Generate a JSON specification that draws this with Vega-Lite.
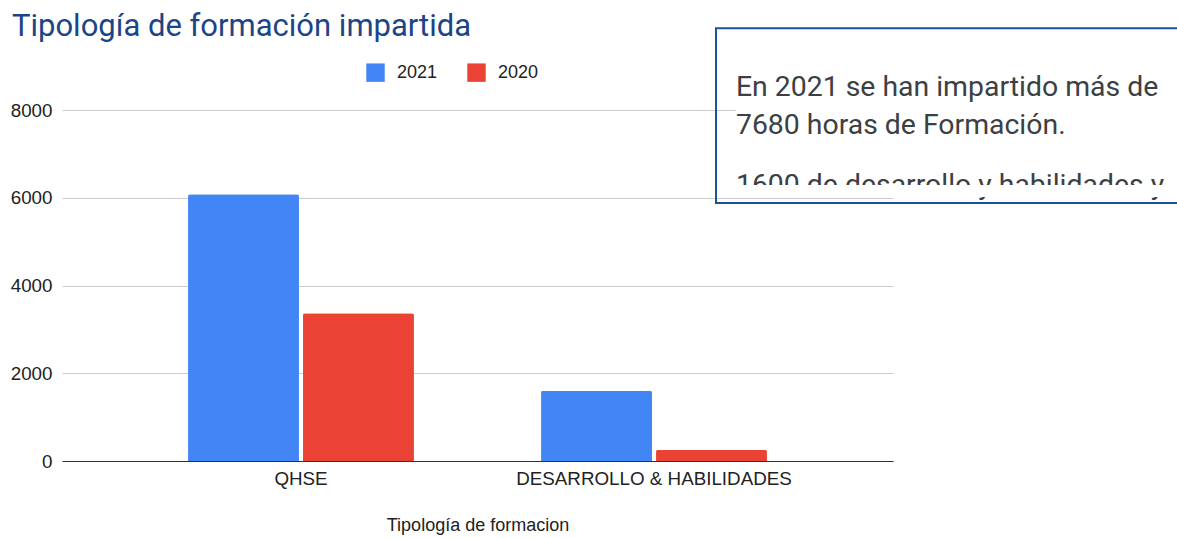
{
  "$schema": "https://vega.github.io/schema/vega-lite/v6.json",
  "autosize": {"type": "none"},
  "padding": {"left": 62, "top": 110, "right": 284, "bottom": 77},
  "width": 831,
  "height": 351,
  "background": "white",
  "title": {
    "text": "Tipología de formación impartida",
    "anchor": "start",
    "frame": "group",
    "dx": -50,
    "font": "Roboto",
    "fontSize": 31,
    "fontWeight": "normal",
    "color": "#1c4587",
    "baseline": "alphabetic",
    "offset": -40
  },
  "datasets": {
    "horas": [
      {"tipologia": "QHSE", "year": "2021", "horas": 6080},
      {"tipologia": "QHSE", "year": "2020", "horas": 3370},
      {"tipologia": "DESARROLLO & HABILIDADES", "year": "2021", "horas": 1600},
      {"tipologia": "DESARROLLO & HABILIDADES", "year": "2020", "horas": 255}
    ],
    "cuadro": [
      {"kind": "bg", "ax1": 81.1, "ax2": 134, "ay1": 9823, "ay2": 6291},
      {"kind": "box", "ax1": 78.7, "ax2": 136, "ay1": 9862, "ay2": 5880},
      {"kind": "mask", "ax1": 80, "ax2": 134, "ay1": 6291, "ay2": 6015}
    ],
    "texto": [
      {"t": "En 2021 se han impartido más de", "ax": 81.1, "ay": 8319},
      {"t": "7680 horas de Formación.", "ax": 81.1, "ay": 7446},
      {"t": "1600 de desarrollo y habilidades y", "ax": 81.1, "ay": 6079}
    ]
  },
  "layer": [
    {
      "data": {"name": "horas"},
      "mark": {"type": "bar", "cornerRadiusTopLeft": 2, "cornerRadiusTopRight": 2},
      "encoding": {
        "x": {
          "field": "tipologia",
          "type": "nominal",
          "sort": ["QHSE", "DESARROLLO & HABILIDADES"],
          "scale": {"paddingInner": 0.36, "paddingOuter": 0.357},
          "axis": {
            "title": "Tipología de formacion",
            "labelAngle": 0,
            "labelLimit": 0,
            "labelFont": "Liberation Sans",
            "labelFontSize": 18.8,
            "labelColor": "#222222",
            "labelPadding": 8,
            "ticks": false,
            "domainColor": "#333333",
            "domainWidth": 1,
            "titleFont": "Liberation Sans",
            "titleFontSize": 18,
            "titleFontWeight": "normal",
            "titleColor": "#222222",
            "titlePadding": 29
          }
        },
        "xOffset": {
          "field": "year",
          "type": "nominal",
          "sort": ["2021", "2020"],
          "scale": {"paddingInner": 0.035}
        },
        "y": {
          "field": "horas",
          "type": "quantitative",
          "scale": {"domain": [0, 8000], "nice": false},
          "axis": {
            "title": null,
            "values": [0, 2000, 4000, 6000, 8000],
            "format": "d",
            "labelFont": "Liberation Sans",
            "labelFontSize": 18.8,
            "labelColor": "#222222",
            "labelPadding": 10,
            "ticks": false,
            "domain": false,
            "gridColor": "#cccccc",
            "gridWidth": 1
          }
        },
        "color": {
          "field": "year",
          "type": "nominal",
          "scale": {"domain": ["2021", "2020"], "range": ["#4285f4", "#ea4335"]},
          "legend": {
            "title": null,
            "orient": "none",
            "legendX": 304,
            "legendY": -47,
            "direction": "horizontal",
            "symbolType": "square",
            "symbolSize": 340,
            "symbolStrokeWidth": 0,
            "labelFont": "Liberation Sans",
            "labelFontSize": 18,
            "labelColor": "#222222",
            "labelOffset": 12,
            "columnPadding": 29
          }
        }
      }
    },
    {
      "layer": [
        {
          "data": {"name": "cuadro"},
          "transform": [{"filter": "datum.kind === 'bg'"}],
          "mark": {"type": "rect", "fill": "white", "strokeWidth": 0},
          "encoding": {
            "x": {"field": "ax1", "type": "quantitative", "scale": {"domain": [0, 100]}, "axis": null},
            "x2": {"field": "ax2"},
            "y": {"field": "ay1", "type": "quantitative", "scale": {"domain": [0, 8000], "nice": false}, "axis": null},
            "y2": {"field": "ay2"}
          }
        },
        {
          "data": {"name": "cuadro"},
          "transform": [{"filter": "datum.kind === 'box'"}],
          "mark": {"type": "rect", "fill": null, "fillOpacity": 0, "stroke": "#1a5496", "strokeWidth": 2},
          "encoding": {
            "x": {"field": "ax1", "type": "quantitative", "scale": {"domain": [0, 100]}, "axis": null},
            "x2": {"field": "ax2"},
            "y": {"field": "ay1", "type": "quantitative", "scale": {"domain": [0, 8000], "nice": false}, "axis": null},
            "y2": {"field": "ay2"}
          }
        },
        {
          "data": {"name": "texto"},
          "mark": {"type": "text", "align": "left", "baseline": "alphabetic", "font": "Roboto", "fontSize": 28.4, "color": "#3c4043"},
          "encoding": {
            "x": {"field": "ax", "type": "quantitative", "scale": {"domain": [0, 100]}, "axis": null},
            "y": {"field": "ay", "type": "quantitative", "scale": {"domain": [0, 8000], "nice": false}, "axis": null},
            "text": {"field": "t"}
          }
        },
        {
          "data": {"name": "cuadro"},
          "transform": [{"filter": "datum.kind === 'mask'"}],
          "mark": {"type": "rect", "fill": "white", "strokeWidth": 0},
          "encoding": {
            "x": {"field": "ax1", "type": "quantitative", "scale": {"domain": [0, 100]}, "axis": null},
            "x2": {"field": "ax2"},
            "y": {"field": "ay1", "type": "quantitative", "scale": {"domain": [0, 8000], "nice": false}, "axis": null},
            "y2": {"field": "ay2"}
          }
        }
      ]
    }
  ],
  "resolve": {"scale": {"x": "independent", "y": "independent", "color": "independent"}},
  "config": {"view": {"stroke": null}}
}
